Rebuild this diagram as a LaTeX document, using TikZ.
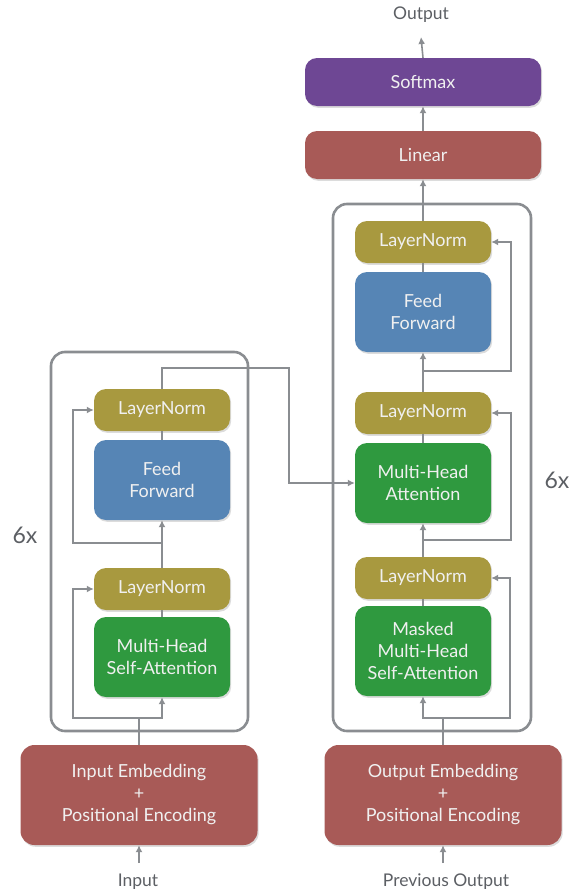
\documentclass[tikz,border=0pt]{standalone}
\usepackage{fontspec}
\setmainfont{Lato}
\usepackage{xcolor}
\usepackage{tikz}
\usetikzlibrary{arrows.meta,shadows}

\definecolor{lnolive}{HTML}{A8993F}
\definecolor{ffblue}{HTML}{5685B5}
\definecolor{attgreen}{HTML}{2F993F}
\definecolor{embred}{HTML}{A85A57}
\definecolor{smpurple}{HTML}{6E4794}
\definecolor{wiregray}{HTML}{8A8D91}
\definecolor{lblgray}{HTML}{5C5F64}

\begin{document}
\begin{tikzpicture}[
  x=1pt, y=-1pt,
  blk/.style={rounded corners=12pt, minimum width=136pt, align=center, inner sep=0pt,
    text=white!94!black, font=\fontsize{18}{22}\selectfont,
    drop shadow={shadow xshift=1.2pt, shadow yshift=-1.8pt, opacity=0.28}},
  lnbox/.style={blk, fill=lnolive, minimum height=42pt},
  ffbox/.style={blk, fill=ffblue, minimum height=80pt},
  attbox/.style={blk, fill=attgreen, minimum height=80pt},
  embbox/.style={blk, fill=embred, minimum width=237pt, minimum height=100pt, rounded corners=14pt},
  headbox/.style={blk, minimum width=236pt, minimum height=48pt},
  outlbl/.style={font=\fontsize{17.5}{20}\selectfont, text=lblgray},
  stack/.style={draw=wiregray, line width=2.6pt, rounded corners=14pt},
  wire/.style={draw=wiregray, line width=1.6pt},
  arr/.style={wire, -{Latex[length=7pt,width=7pt]}},
]
\useasboundingbox (0,0) rectangle (579,894);

% === Stacks ===
\draw[stack] (51,352) rectangle (248,731);
\draw[stack] (333,204) rectangle (531,731);
\node[outlbl, font=\fontsize{23}{26}\selectfont] (encN) at (25,535) {6x};
\node[outlbl, font=\fontsize{23}{26}\selectfont] (decN) at (557,480) {6x};

% === Encoder ===
\node[embbox] (eEmb) at (139,795) {Input Embedding\\+\\Positional Encoding};
\node[attbox] (eAtt) at (162,657) {Multi-Head\\Self-Attention};
\node[lnbox] (eLN1) at (162,589) {LayerNorm};
\node[ffbox] (eFF) at (162,480) {Feed\\Forward};
\node[lnbox] (eLN2) at (162,410) {LayerNorm};
\node[outlbl] (inLbl) at (138,882) {Input};
\coordinate (inTail) at (139,863);

% === Decoder ===
\node[embbox] (dEmb) at (443,795) {Output Embedding\\+\\Positional Encoding};
\node[attbox, minimum height=90pt] (dMask) at (423,651) {Masked\\Multi-Head\\Self-Attention};
\node[lnbox] (dLN1) at (423,578) {LayerNorm};
\node[attbox] (dAtt) at (423,483) {Multi-Head\\Attention};
\node[lnbox] (dLN2) at (423,413) {LayerNorm};
\node[ffbox] (dFF) at (423,312) {Feed\\Forward};
\node[lnbox] (dLN3) at (423,242) {LayerNorm};
\node[headbox, fill=embred] (dLin) at (423,155) {Linear};
\node[headbox, fill=smpurple] (dSoft) at (423,82) {Softmax};
\node[outlbl] (outLbl) at (421,15) {Output};
\coordinate (outTip) at (421,37);
\node[outlbl] (prevLbl) at (446,882) {Previous Output};
\coordinate (prevTail) at (443,863);

% === Encoder wires ===
\coordinate (eSplitA) at (139,718);
\coordinate (eResA) at (73,718);
\coordinate (eSplitB) at (162,543);
\coordinate (eResB) at (73,543);
\coordinate (crossA) at (289,368);
\draw[arr] (inTail) -- (eEmb.south);
\draw[wire] (eEmb.north) -- (eSplitA);
\draw[arr] (eSplitA) -| (eAtt.south);
\draw[arr] (eSplitA) -- (eResA) |- (eLN1.west);
\draw[wire] (eAtt) -- (eLN1);
\draw[arr] (eLN1.north) -- (eFF.south);
\draw[arr] (eSplitB) -- (eResB) |- (eLN2.west);
\draw[wire] (eFF) -- (eLN2);
\draw[arr] (eLN2.north) |- (crossA) |- (dAtt.west);

% === Decoder wires ===
\coordinate (dSplitA) at (443,718);
\coordinate (dResA) at (510,718);
\coordinate (dSplitB) at (423,540);
\coordinate (dResB) at (511,540);
\coordinate (dSplitC) at (423,371);
\coordinate (dResC) at (511,371);
\draw[arr] (prevTail) -- (dEmb.south);
\draw[wire] (dEmb.north) -- (dSplitA);
\draw[arr] (dSplitA) -| (dMask.south);
\draw[arr] (dSplitA) -- (dResA) |- (dLN1.east);
\draw[wire] (dMask) -- (dLN1);
\draw[arr] (dLN1.north) -- (dAtt.south);
\draw[arr] (dSplitB) -- (dResB) |- (dLN2.east);
\draw[wire] (dAtt) -- (dLN2);
\draw[arr] (dLN2.north) -- (dFF.south);
\draw[arr] (dSplitC) -- (dResC) |- (dLN3.east);
\draw[wire] (dFF) -- (dLN3);
\draw[arr] (dLN3.north) -- (dLin.south);
\draw[arr] (dLin) -- (dSoft);
\draw[arr] (dSoft.north) -- (outTip);
\end{tikzpicture}
\end{document}
